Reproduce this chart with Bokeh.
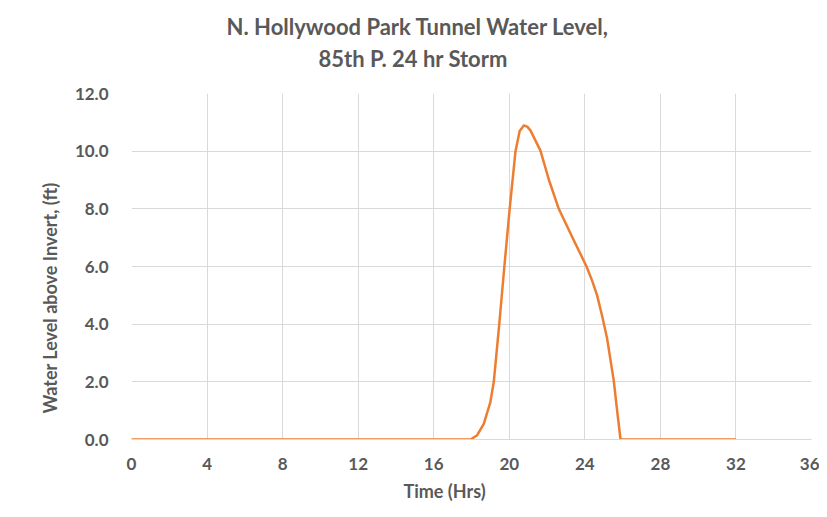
from bokeh.plotting import figure
from bokeh.models import Title, FixedTicker, Range1d
from bokeh.embed import file_html
from bokeh.resources import INLINE

title_line1 = "N. Hollywood Park Tunnel Water Level,"
title_line2 = "85th P.  24 hr Storm"
x_label = "Time (Hrs)"
y_label = "Water Level above Invert,  (ft)"

time_hrs = [0, 17.95, 18.3, 18.65, 19.0, 19.18, 19.47, 19.74, 20.02, 20.33, 20.55, 20.77,
            20.95, 21.12, 21.65, 22.1, 22.62, 23.35, 24.09, 24.39, 24.65, 24.91, 25.18,
            25.53, 25.71, 25.89, 32]
level_ft = [0, 0, 0.15, 0.54, 1.3, 2.0, 4.0, 6.0, 8.0, 10.0, 10.7, 10.89,
            10.85, 10.72, 10.02, 9.0, 8.0, 7.0, 6.0, 5.5, 5.0, 4.3, 3.5,
            2.05, 1.0, 0, 0]

x_ticks = [0, 4, 8, 12, 16, 20, 24, 28, 32, 36]
y_ticks = [0, 2, 4, 6, 8, 10, 12]

FONT = "Lato"
GRAY = "#595959"
GRID = "#d9d9d9"

p = figure(width=819, height=509, output_backend="svg", toolbar_location=None,
           x_range=Range1d(0, 36), y_range=Range1d(0, 12),
           min_border_left=131, min_border_right=8, min_border_top=93, min_border_bottom=70)
p.outline_line_color = None

# titles: p.title is the outer line, the added Title sits next to the frame
p.title.text = title_line1
p.title.align = "left"
p.title.offset = 95
p.title.standoff = -38
p.title.text_font = FONT
p.title.text_font_style = "bold"
p.title.text_color = GRAY
p.title.text_font_size = "22px"
p.add_layout(Title(text=title_line2, align="left", offset=187, standoff=44, text_font=FONT,
                   text_font_style="bold", text_color=GRAY, text_font_size="22px"), "above")

p.line(time_hrs, level_ft, line_color="#ED7D31", line_width=2.5, line_join="round")

for ax in (p.xaxis[0], p.yaxis[0]):
    ax.major_tick_line_color = None
    ax.minor_tick_line_color = None
    ax.major_label_text_font = FONT
    ax.major_label_text_font_style = "bold"
    ax.major_label_text_color = GRAY
    ax.major_label_text_font_size = "17px"

p.xaxis.ticker = FixedTicker(ticks=x_ticks)
p.yaxis.ticker = FixedTicker(ticks=y_ticks)
p.xaxis.axis_line_color = GRID
p.yaxis.axis_line_color = None
p.xaxis.major_label_standoff = 12
p.yaxis.major_label_standoff = 17
p.yaxis.major_label_overrides = {t: f"{t:.1f}" for t in y_ticks}

p.add_layout(Title(text=y_label, align="left", offset=26, standoff=22, text_font=FONT,
                   text_font_style="bold", text_color=GRAY, text_font_size="18px"), "left")
p.add_layout(Title(text=x_label, align="left", offset=272, text_font=FONT,
                   text_font_style="bold", text_color=GRAY, text_font_size="18px"), "below")

p.xgrid.grid_line_color = GRID
p.ygrid.grid_line_color = GRID
p.xgrid.ticker = FixedTicker(ticks=x_ticks)
p.ygrid.ticker = FixedTicker(ticks=y_ticks)

open("out.html", "w").write(file_html(p, INLINE))
